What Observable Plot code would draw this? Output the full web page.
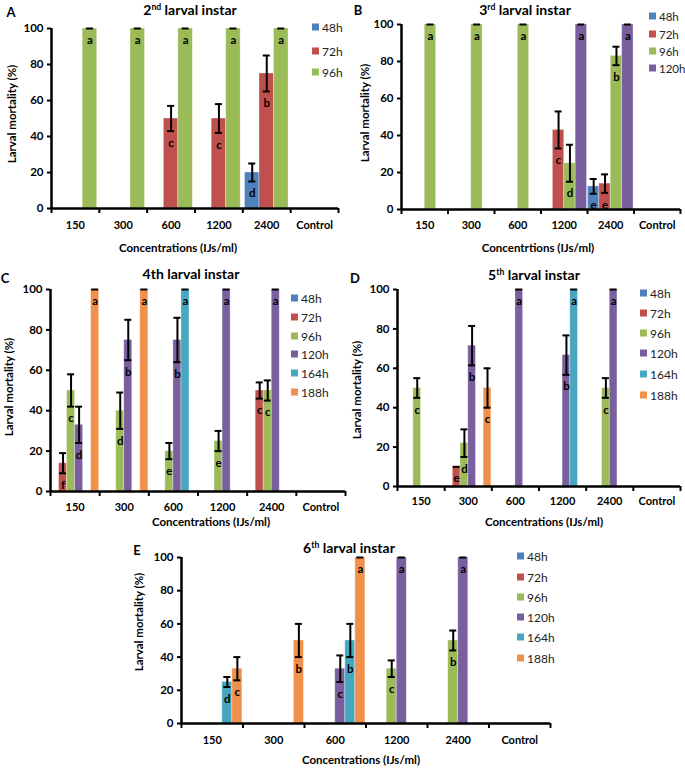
<!DOCTYPE html>
<html><head><meta charset="utf-8">
<script src="https://cdn.jsdelivr.net/npm/d3@7"></script>
<script src="https://cdn.jsdelivr.net/npm/@observablehq/plot@0.6"></script>
<style>
body{margin:0;background:#fff;}
#chart{position:relative;width:685px;height:769px;overflow:hidden;font-family:Lato,"Open Sans",sans-serif;color:#000;background:#fff;}
.abs{position:absolute;white-space:nowrap;line-height:1;}
.letter{font-weight:700;font-size:13px;transform:translate(-50%,-50%);}
.title{font-weight:700;font-size:14px;transform:translate(-50%,-50%);}
.title sup{font-size:0.62em;vertical-align:0.55em;}
.xtitle{font-weight:700;font-size:11.5px;transform:translate(-50%,-50%);}
.ytitle{font-weight:700;font-size:11.5px;transform:translate(-50%,-50%) rotate(-90deg);}
.lrow{position:absolute;display:flex;align-items:center;font-size:12px;color:#222;transform:translateY(-50%);white-space:nowrap;}
.sw{width:7px;height:7px;margin-right:3px;}
svg{position:absolute;}
</style></head>
<body>
<div id="chart"></div>
<script>
// ---------- data ----------
const concentrations = ["150", "300", "600", "1200", "2400", "Control"];
const seriesNames = ["48h", "72h", "96h", "120h", "164h", "188h"];
const yTicks = [0, 20, 40, 60, 80, 100];

// [concentration, exposure time, mortality %, error, letter]
const instar2 = [
  ["150", "96h", 100, 0, "a"],
  ["300", "96h", 100, 0, "a"],
  ["600", "72h", 50, 7, "c"],
  ["600", "96h", 100, 0, "a"],
  ["1200", "72h", 50, 8, "c"],
  ["1200", "96h", 100, 0, "a"],
  ["2400", "48h", 20, 5, "d"],
  ["2400", "72h", 75, 10, "b"],
  ["2400", "96h", 100, 0, "a"]
];
const instar3 = [
  ["150", "96h", 100, 0, "a"],
  ["300", "96h", 100, 0, "a"],
  ["600", "96h", 100, 0, "a"],
  ["1200", "72h", 43, 10, "c"],
  ["1200", "96h", 25, 10, "d"],
  ["1200", "120h", 100, 0, "a"],
  ["2400", "48h", 12.5, 4, "e"],
  ["2400", "72h", 14, 5, "e"],
  ["2400", "96h", 83, 5, "b"],
  ["2400", "120h", 100, 0, "a"]
];
const instar4 = [
  ["150", "72h", 14, 5, "f"],
  ["150", "96h", 50, 8, "c"],
  ["150", "120h", 33, 9, "d"],
  ["150", "188h", 100, 0, "a"],
  ["300", "96h", 40, 9, "d"],
  ["300", "120h", 75, 10, "b"],
  ["300", "188h", 100, 0, "a"],
  ["600", "96h", 20, 4, "e"],
  ["600", "120h", 75, 11, "b"],
  ["600", "164h", 100, 0, "a"],
  ["1200", "96h", 25, 5, "e"],
  ["1200", "120h", 100, 0, "a"],
  ["2400", "72h", 50, 4, "c"],
  ["2400", "96h", 50, 5, "c"],
  ["2400", "120h", 100, 0, "a"]
];
const instar5 = [
  ["150", "96h", 50, 5, "c"],
  ["300", "72h", 10, 0, "e"],
  ["300", "96h", 22, 7, "d"],
  ["300", "120h", 71.5, 10, "b"],
  ["300", "188h", 50, 10, "c"],
  ["600", "120h", 100, 0, "a"],
  ["1200", "120h", 66.7, 10, "b"],
  ["1200", "164h", 100, 0, "a"],
  ["2400", "96h", 50, 5, "c"],
  ["2400", "120h", 100, 0, "a"]
];
const instar6 = [
  ["150", "164h", 25, 3, "d"],
  ["150", "188h", 33, 7, "c"],
  ["300", "188h", 50, 10, "b"],
  ["600", "120h", 33, 8, "c"],
  ["600", "164h", 50, 10, "b"],
  ["600", "188h", 100, 0, "a"],
  ["1200", "96h", 33, 5, "c"],
  ["1200", "120h", 100, 0, "a"],
  ["2400", "96h", 50, 6, "b"],
  ["2400", "120h", 100, 0, "a"]
];

// ---------- styles ----------
const seriesColors = ["#4F81BD", "#C0504D", "#9BBB59", "#7A5F9E", "#47A7C0", "#F0904A"];
const chart = document.getElementById("chart");

function addDiv(cls, html, x, y) {
  const d = document.createElement("div");
  d.className = "abs " + cls;
  d.innerHTML = html;
  d.style.left = x + "px";
  d.style.top = y + "px";
  chart.appendChild(d);
}

function drawPanel(cfg) {
  const n = cfg.series.length;
  const bw = (1 - 2 * cfg.gap) / n;
  const cIdx = d => concentrations.indexOf(d[0]);
  const sIdx = d => cfg.series.indexOf(d[1]);
  const x1 = d => cIdx(d) + cfg.gap + sIdx(d) * bw;
  const x2 = d => x1(d) + bw;
  const xm = d => x1(d) + bw / 2;
  const withErr = cfg.rows.filter(d => d[3] > 0);
  const black = "#000";
  const svg = Plot.plot({
    width: cfg.width,
    height: cfg.height,
    marginLeft: cfg.ml, marginRight: cfg.mr, marginTop: cfg.mt, marginBottom: cfg.mb,
    x: {type: "linear", domain: [0, concentrations.length], axis: null},
    y: {domain: [0, 100], axis: null},
    color: {domain: seriesNames, range: seriesColors},
    style: {fontFamily: "Lato, 'Open Sans', sans-serif", fontSize: "11px", fontWeight: "bold", color: "#000", background: "transparent", overflow: "visible"},
    marks: [
      Plot.rect(cfg.rows, {x1, x2, y1: 0, y2: d => d[2], fill: d => d[1], stroke: "#fff", strokeOpacity: 0.4, strokeWidth: 0.8}),
      Plot.ruleX(withErr, {x: xm, y1: d => d[2] - d[3], y2: d => d[2] + d[3], stroke: black, strokeWidth: 2}),
      Plot.ruleY(cfg.rows, {y: d => d[2] + d[3], x1: xm, x2: xm, insetLeft: -3.5, insetRight: -3.5, stroke: black, strokeWidth: 2}),
      Plot.ruleY(withErr, {y: d => d[2] - d[3], x1: xm, x2: xm, insetLeft: -3.5, insetRight: -3.5, stroke: black, strokeWidth: 2}),
      Plot.text(cfg.rows, {x: xm, y: d => d[2] - d[3], text: d => d[4], dy: 12, fontSize: 11.5, fontWeight: "bold", fill: black}),
      Plot.ruleX([0], {stroke: black, strokeWidth: 2.5}),
      Plot.ruleY([0], {stroke: black, strokeWidth: 2.5}),
      Plot.axisY({ticks: yTicks, tickSize: 4, tickPadding: 4, label: null, tickFormat: d => String(d), fontSize: 11.5, fontWeight: "bold", strokeWidth: 2}),
      Plot.axisX({ticks: d3.range(0, concentrations.length + 1), tickSize: 5, tickFormat: () => "", label: null, strokeWidth: 2}),
      Plot.axisX({ticks: concentrations.map((c, i) => i + 0.5), tickSize: 0, tickPadding: cfg.labelPad, tickFormat: t => concentrations[Math.floor(t)], label: null, fontSize: 11, fontWeight: "bold"})
    ]
  });
  svg.style.left = cfg.left + "px";
  svg.style.top = cfg.top + "px";
  chart.appendChild(svg);

  addDiv("letter", cfg.letter, cfg.letterPos[0], cfg.letterPos[1]);
  addDiv("title", cfg.title, cfg.titlePos[0], cfg.titlePos[1]);
  addDiv("ytitle", "Larval mortality (%)", cfg.yTitlePos[0], cfg.yTitlePos[1]);
  addDiv("xtitle", cfg.xTitle, cfg.xTitlePos[0], cfg.xTitlePos[1]);
  cfg.series.forEach((s, i) => {
    const r = document.createElement("div");
    r.className = "lrow";
    r.style.left = cfg.legendX + "px";
    r.style.top = cfg.legendY[i] + "px";
    if (cfg.legendFont) r.style.fontSize = cfg.legendFont + "px";
    const sw = document.createElement("div");
    sw.className = "sw";
    sw.style.background = seriesColors[seriesNames.indexOf(s)];
    r.appendChild(sw);
    r.appendChild(document.createTextNode(s));
    chart.appendChild(r);
  });
}

drawPanel({
  rows: instar2, series: seriesNames.slice(0, 3), gap: 0.045,
  left: 0, top: 0, width: 345, height: 262, ml: 51, mr: 7, mt: 28, mb: 54, labelPad: 13,
  letter: "A", letterPos: [11, 12],
  title: "2<sup>nd</sup> larval instar", titlePos: [190, 10],
  yTitlePos: [12, 114], xTitle: "Concentrations (IJs/ml)", xTitlePos: [178, 248],
  legendX: 312, legendY: [27, 51, 72]
});
drawPanel({
  rows: instar3, series: seriesNames.slice(0, 4), gap: 0.01,
  left: 340, top: 0, width: 345, height: 262, ml: 61, mr: 5, mt: 24, mb: 53, labelPad: 12,
  letter: "B", letterPos: [358, 10],
  title: "3<sup>rd</sup> larval instar", titlePos: [525, 10],
  yTitlePos: [365, 113], xTitle: "Concentrtions (IJs/ml)", xTitlePos: [538, 248],
  legendX: 649, legendY: [16, 34, 51, 68], legendFont: 11.5
});
drawPanel({
  rows: instar4, series: seriesNames, gap: 0.01,
  left: 0, top: 250, width: 347, height: 290, ml: 50, mr: 2, mt: 39, mb: 49, labelPad: 12,
  letter: "C", letterPos: [5, 278],
  title: "4th larval instar", titlePos: [191, 274],
  yTitlePos: [9, 387], xTitle: "Concentrations (IJs/ml)", xTitlePos: [211, 522],
  legendX: 291, legendY: [298, 317, 336, 354, 373, 392]
});
drawPanel({
  rows: instar5, series: seriesNames, gap: 0.01,
  left: 340, top: 250, width: 345, height: 290, ml: 57, mr: 5, mt: 39, mb: 54, labelPad: 11,
  letter: "D", letterPos: [355, 278],
  title: "5<sup>th</sup> larval instar", titlePos: [534, 275],
  yTitlePos: [357, 390], xTitle: "Concentrations (IJs/ml)", xTitlePos: [544, 522],
  legendX: 640, legendY: [293, 313, 333, 353, 374, 395]
});
drawPanel({
  rows: instar6, series: seriesNames, gap: 0.01,
  left: 120, top: 510, width: 445, height: 259, ml: 61, mr: 15, mt: 47, mb: 46, labelPad: 13,
  letter: "E", letterPos: [137, 550],
  title: "6<sup>th</sup> larval instar", titlePos: [349, 548],
  yTitlePos: [139, 622], xTitle: "Concentrations (IJs/ml)", xTitlePos: [361, 760],
  legendX: 517, legendY: [556, 577, 597, 617, 637, 658]
});
</script>
</body></html>
